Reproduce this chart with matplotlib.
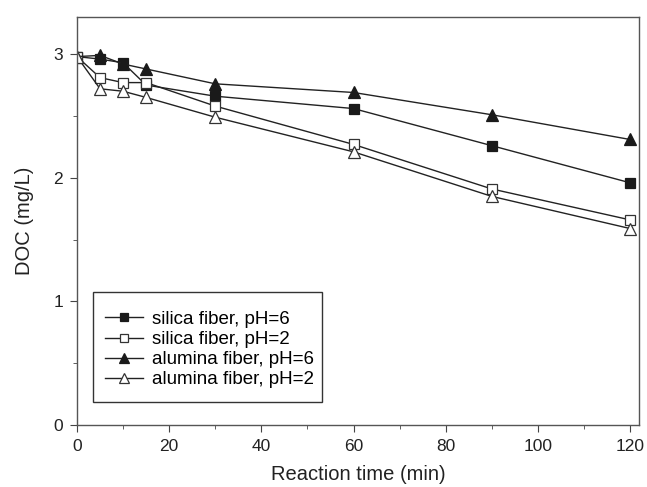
import matplotlib
matplotlib.use("Agg")
import matplotlib.pyplot as plt
from matplotlib.patches import Rectangle
from matplotlib.ticker import MultipleLocator

plt.rcParams["font.family"] = ["Liberation Sans", "DejaVu Sans"]

# ── Data ──────────────────────────────────────────────────────────────────────
time_min = [0, 5, 10, 15, 30, 60, 90, 120]

silica_ph6  = [2.98, 2.96, 2.93, 2.75, 2.66, 2.56, 2.26, 1.96]
silica_ph2  = [2.98, 2.81, 2.77, 2.77, 2.58, 2.27, 1.91, 1.66]
alumina_ph6 = [2.98, 2.99, 2.92, 2.88, 2.76, 2.69, 2.51, 2.31]
alumina_ph2 = [2.98, 2.72, 2.70, 2.65, 2.49, 2.21, 1.85, 1.59]

labels = ["silica fiber, pH=6", "silica fiber, pH=2",
          "alumina fiber, pH=6", "alumina fiber, pH=2"]

# ── Plot ──────────────────────────────────────────────────────────────────────
fig = plt.figure(figsize=(6.47, 4.87), dpi=100)
ax = fig.add_axes([0.119, 0.127, 0.869, 0.838])

dark = "#1a1a1a"
styles = [
    dict(marker="s", mfc=dark, mec=dark, ms=7),
    dict(marker="s", mfc="white", mec="#333333", ms=7),
    dict(marker="^", mfc=dark, mec=dark, ms=8),
    dict(marker="^", mfc="white", mec="#333333", ms=8),
]
series = [silica_ph6, silica_ph2, alumina_ph6, alumina_ph2]

for vals, lab, st in zip(series, labels, styles):
    ax.plot(time_min, vals, color="#222222", lw=1.0, mew=0.9, label=lab, **st)

ax.set_xlim(0, 122)
ax.set_ylim(0, 3.3)
ax.xaxis.set_major_locator(MultipleLocator(20))
ax.xaxis.set_minor_locator(MultipleLocator(10))
ax.yaxis.set_major_locator(MultipleLocator(1))
ax.yaxis.set_minor_locator(MultipleLocator(0.5))
ax.tick_params(which="both", direction="out", colors="#444444", labelcolor="#222222")
ax.tick_params(which="major", length=5, labelsize=12.5, pad=5)
ax.tick_params(which="minor", length=3)

for sp in ax.spines.values():
    sp.set_color("#555555")
    sp.set_linewidth(1.0)

ax.set_xlabel("Reaction time (min)", fontsize=14.5, color="#222222", labelpad=8)
ax.set_ylabel("DOC (mg/L)", fontsize=14.5, color="#222222", labelpad=14)

# legend without its own frame; a box with wider top/bottom padding is added below
leg = ax.legend(loc="lower left", bbox_to_anchor=(0.05, 0.09), fontsize=13.5,
                frameon=False, handlelength=2.0, labelspacing=0.16,
                borderpad=0, handletextpad=0.5, borderaxespad=0,
                markerscale=0.85)

fig.canvas.draw()
bb = leg.get_window_extent()
pad_l, pad_r, pad_t, pad_b = 12, 8, 19, 14
W, H = fig.bbox.width, fig.bbox.height
frame = Rectangle(((bb.x0 - pad_l) / W, (bb.y0 - pad_b) / H),
                  (bb.width + pad_l + pad_r) / W, (bb.height + pad_t + pad_b) / H,
                  transform=fig.transFigure, fill=False,
                  edgecolor="#333333", linewidth=1.0, zorder=5)
fig.add_artist(frame)

fig.savefig("out.png", dpi=100)
